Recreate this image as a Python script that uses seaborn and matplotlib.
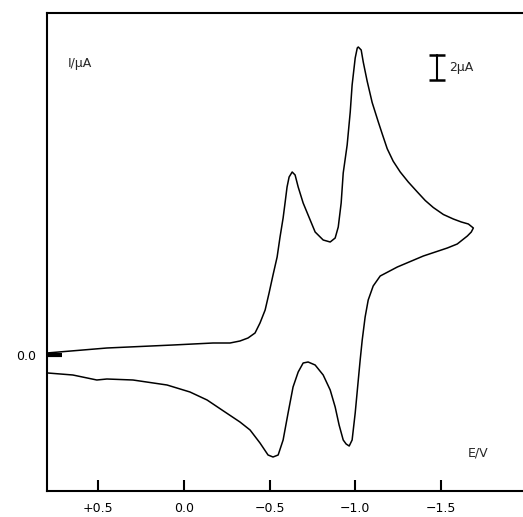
import numpy as np
import pandas as pd
import matplotlib
matplotlib.use("Agg")
import matplotlib.pyplot as plt
import seaborn as sns

# cyclic voltammogram
# forward scan (going negative)
E_fwd = [0.801, 0.450, 0.064, -0.170, -0.269, -0.327, -0.374, -0.415, -0.444, -0.474,
         -0.497, -0.520, -0.544, -0.561, -0.579, -0.591, -0.602, -0.614, -0.632, -0.649,
         -0.667, -0.696, -0.737, -0.766, -0.813, -0.854, -0.883, -0.901, -0.918, -0.930,
         -0.953, -0.971, -0.982, -1.000, -1.012, -1.018, -1.035, -1.047, -1.058, -1.070,
         -1.099, -1.135, -1.158, -1.187, -1.222, -1.263, -1.310, -1.363, -1.409, -1.456,
         -1.515, -1.573, -1.620, -1.661, -1.690]
I_fwd = [0.16, 0.56, 0.80, 0.96, 0.96, 1.12, 1.36, 1.76, 2.56, 3.60,
         4.96, 6.40, 7.84, 9.44, 10.96, 12.24, 13.44, 14.24, 14.64, 14.40,
         13.44, 12.16, 10.80, 9.84, 9.20, 9.04, 9.36, 10.24, 12.16, 14.56,
         16.80, 19.44, 21.60, 23.76, 24.56, 24.64, 24.40, 23.44, 22.70, 21.90,
         20.20, 18.64, 17.68, 16.50, 15.50, 14.64, 13.84, 13.04, 12.36, 11.80,
         11.24, 10.88, 10.64, 10.48, 10.16]
# reverse scan (going back positive)
E_rev = [-1.678, -1.655, -1.596, -1.538, -1.398, -1.246, -1.146, -1.105, -1.076, -1.058,
         -1.041, -1.029, -1.018, -1.000, -0.982, -0.965, -0.947, -0.930, -0.906, -0.883,
         -0.854, -0.813, -0.766, -0.725, -0.696, -0.667, -0.637, -0.608, -0.579, -0.550,
         -0.520, -0.491, -0.444, -0.386, -0.327, -0.222, -0.135, -0.035, 0.099, 0.298,
         0.450, 0.509, 0.649, 0.795]
I_rev = [9.84, 9.52, 8.88, 8.56, 7.92, 7.04, 6.32, 5.52, 4.40, 3.04,
         1.20, -0.40, -2.00, -4.64, -6.80, -7.28, -7.12, -6.80, -5.60, -4.16,
         -2.80, -1.60, -0.80, -0.56, -0.64, -1.36, -2.56, -4.64, -6.80, -8.00,
         -8.16, -8.00, -7.04, -6.00, -5.36, -4.40, -3.60, -2.96, -2.40, -2.00,
         -1.92, -2.00, -1.60, -1.44]

x_ticks = [0.5, 0.0, -0.5, -1.0, -1.5]
x_labels = ["+0.5", "0.0", "\u22120.5", "\u22121.0", "\u22121.5"]

cv = pd.DataFrame({"E": E_fwd + E_rev, "I": I_fwd + I_rev})

sns.set_style("ticks")
plt.rcParams["font.family"] = ["DejaVu Sans"]

fig = plt.figure(figsize=(5.23, 5.17), dpi=100)
ax = fig.add_axes([47 / 523, 26 / 517, 1 - 47 / 523, 478 / 517])

sns.lineplot(data=cv, x="E", y="I", sort=False, estimator=None,
             color="black", linewidth=1.1, ax=ax)
ax.lines[0].set_solid_joinstyle("round")

ax.set_xlim(0.80, -1.98)
ax.set_ylim(-10.88, 27.36)

ax.set_xticks(x_ticks)
ax.set_xticklabels(x_labels, fontsize=9, color="black")
ax.tick_params(axis="x", direction="in", length=8, width=1.5, pad=8, colors="black")
ax.set_yticks([0.0])
ax.set_yticklabels(["0.0"], fontsize=9, color="black")
ax.tick_params(axis="y", direction="in", length=11, width=3, pad=8, colors="black")

for side in ["left", "bottom", "top"]:
    ax.spines[side].set_linewidth(1.5)
    ax.spines[side].set_color("black")
ax.spines["right"].set_visible(False)
ax.set_xlabel("")
ax.set_ylabel("")

# axis labels inside the frame
ax.text(0.68, 23.3, "I/\u00b5A", fontsize=9, ha="left", va="center")
ax.text(-1.66, -7.8, "E/V", fontsize=9, ha="left", va="center")

# 2 uA scale bar
ax.plot([-1.48, -1.48], [22.0, 24.0], color="black", linewidth=1.5)
ax.plot([-1.48, -1.48], [22.0, 24.0], color="black", linestyle="none",
        marker="_", markersize=11, markeredgewidth=1.8)
ax.text(-1.55, 23.0, "2\u00b5A", fontsize=9, ha="left", va="center")

fig.savefig("out.png", dpi=100)
